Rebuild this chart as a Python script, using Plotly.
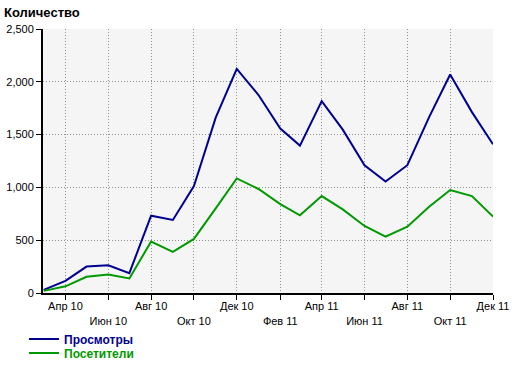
import plotly.graph_objects as go

months = ["2010-03-01", "2010-04-01", "2010-05-01", "2010-06-01", "2010-07-01", "2010-08-01",
          "2010-09-01", "2010-10-01", "2010-11-01", "2010-12-01", "2011-01-01", "2011-02-01",
          "2011-03-01", "2011-04-01", "2011-05-01", "2011-06-01", "2011-07-01", "2011-08-01",
          "2011-09-01", "2011-10-01", "2011-11-01", "2011-12-01"]
views = [30, 115, 250, 262, 188, 732, 692, 1012, 1660, 2123, 1875, 1557,
         1396, 1817, 1547, 1210, 1056, 1210, 1666, 2069, 1713, 1408]
visitors = [20, 63, 154, 176, 138, 487, 390, 512, 802, 1085, 985, 842,
            736, 918, 792, 635, 534, 628, 817, 975, 918, 723]

tick_vals = ["2010-04-01", "2010-06-01", "2010-08-01", "2010-10-01", "2010-12-01", "2011-02-01",
             "2011-04-01", "2011-06-01", "2011-08-01", "2011-10-01", "2011-12-01"]
tick_text = ["Апр 10", "\u00a0<br>Июн 10", "Авг 10", "\u00a0<br>Окт 10", "Дек 10", "\u00a0<br>Фев 11",
             "Апр 11", "\u00a0<br>Июн 11", "Авг 11", "\u00a0<br>Окт 11", "Дек 11"]

BLUE = "#000090"
GREEN = "#009900"

fig = go.Figure()
fig.add_trace(go.Scatter(x=months, y=views, mode="lines", line=dict(color=BLUE, width=2),
                         name=f"<span style='color:{BLUE}'><b>Просмотры</b></span>", legend="legend"))
fig.add_trace(go.Scatter(x=months, y=visitors, mode="lines", line=dict(color=GREEN, width=2),
                         name=f"<span style='color:{GREEN}'><b>Посетители</b></span>", legend="legend2"))

font_family = "Liberation Sans, Arial, sans-serif"
GRID = "#909090"

fig.update_layout(
    width=520, height=366,
    margin=dict(l=43, r=27, t=29, b=73, autoexpand=False),
    paper_bgcolor="white",
    plot_bgcolor="#f5f5f5",
    font=dict(family=font_family, size=11, color="black"),
    title=dict(text="<b>Количество</b>", x=4/520, xanchor="left", xref="container",
               y=1-12/366, yanchor="middle", yref="container",
               font=dict(size=13, family=font_family, color="black")),
    xaxis=dict(
        type="date",
        range=["2010-02-28", "2011-12-01"],
        tickvals=tick_vals, ticktext=tick_text,
        showgrid=True, gridcolor=GRID, griddash="1px,2px", gridwidth=1,
        showline=True, linecolor="black", linewidth=2,
        ticks="outside", ticklen=5, tickcolor="black", tickwidth=1,
        zeroline=False, tickangle=0, ticklabelstandoff=-3,
    ),
    yaxis=dict(
        range=[0, 2500],
        tickvals=[0, 500, 1000, 1500, 2000, 2500],
        tickformat=",",
        showgrid=True, gridcolor=GRID, griddash="1px,2px", gridwidth=1,
        showline=True, linecolor="black", linewidth=2,
        ticks="outside", ticklen=5, tickcolor="black", tickwidth=1,
        zeroline=False,
    ),
    legend=dict(xref="container", yref="container", x=24/520, xanchor="left",
                y=1-339/366, yanchor="middle", bgcolor="rgba(0,0,0,0)",
                font=dict(size=12, family=font_family)),
    legend2=dict(xref="container", yref="container", x=24/520, xanchor="left",
                 y=1-353/366, yanchor="middle", bgcolor="rgba(0,0,0,0)",
                 font=dict(size=12, family=font_family)),
    showlegend=True,
)

fig.write_html("out.html")
